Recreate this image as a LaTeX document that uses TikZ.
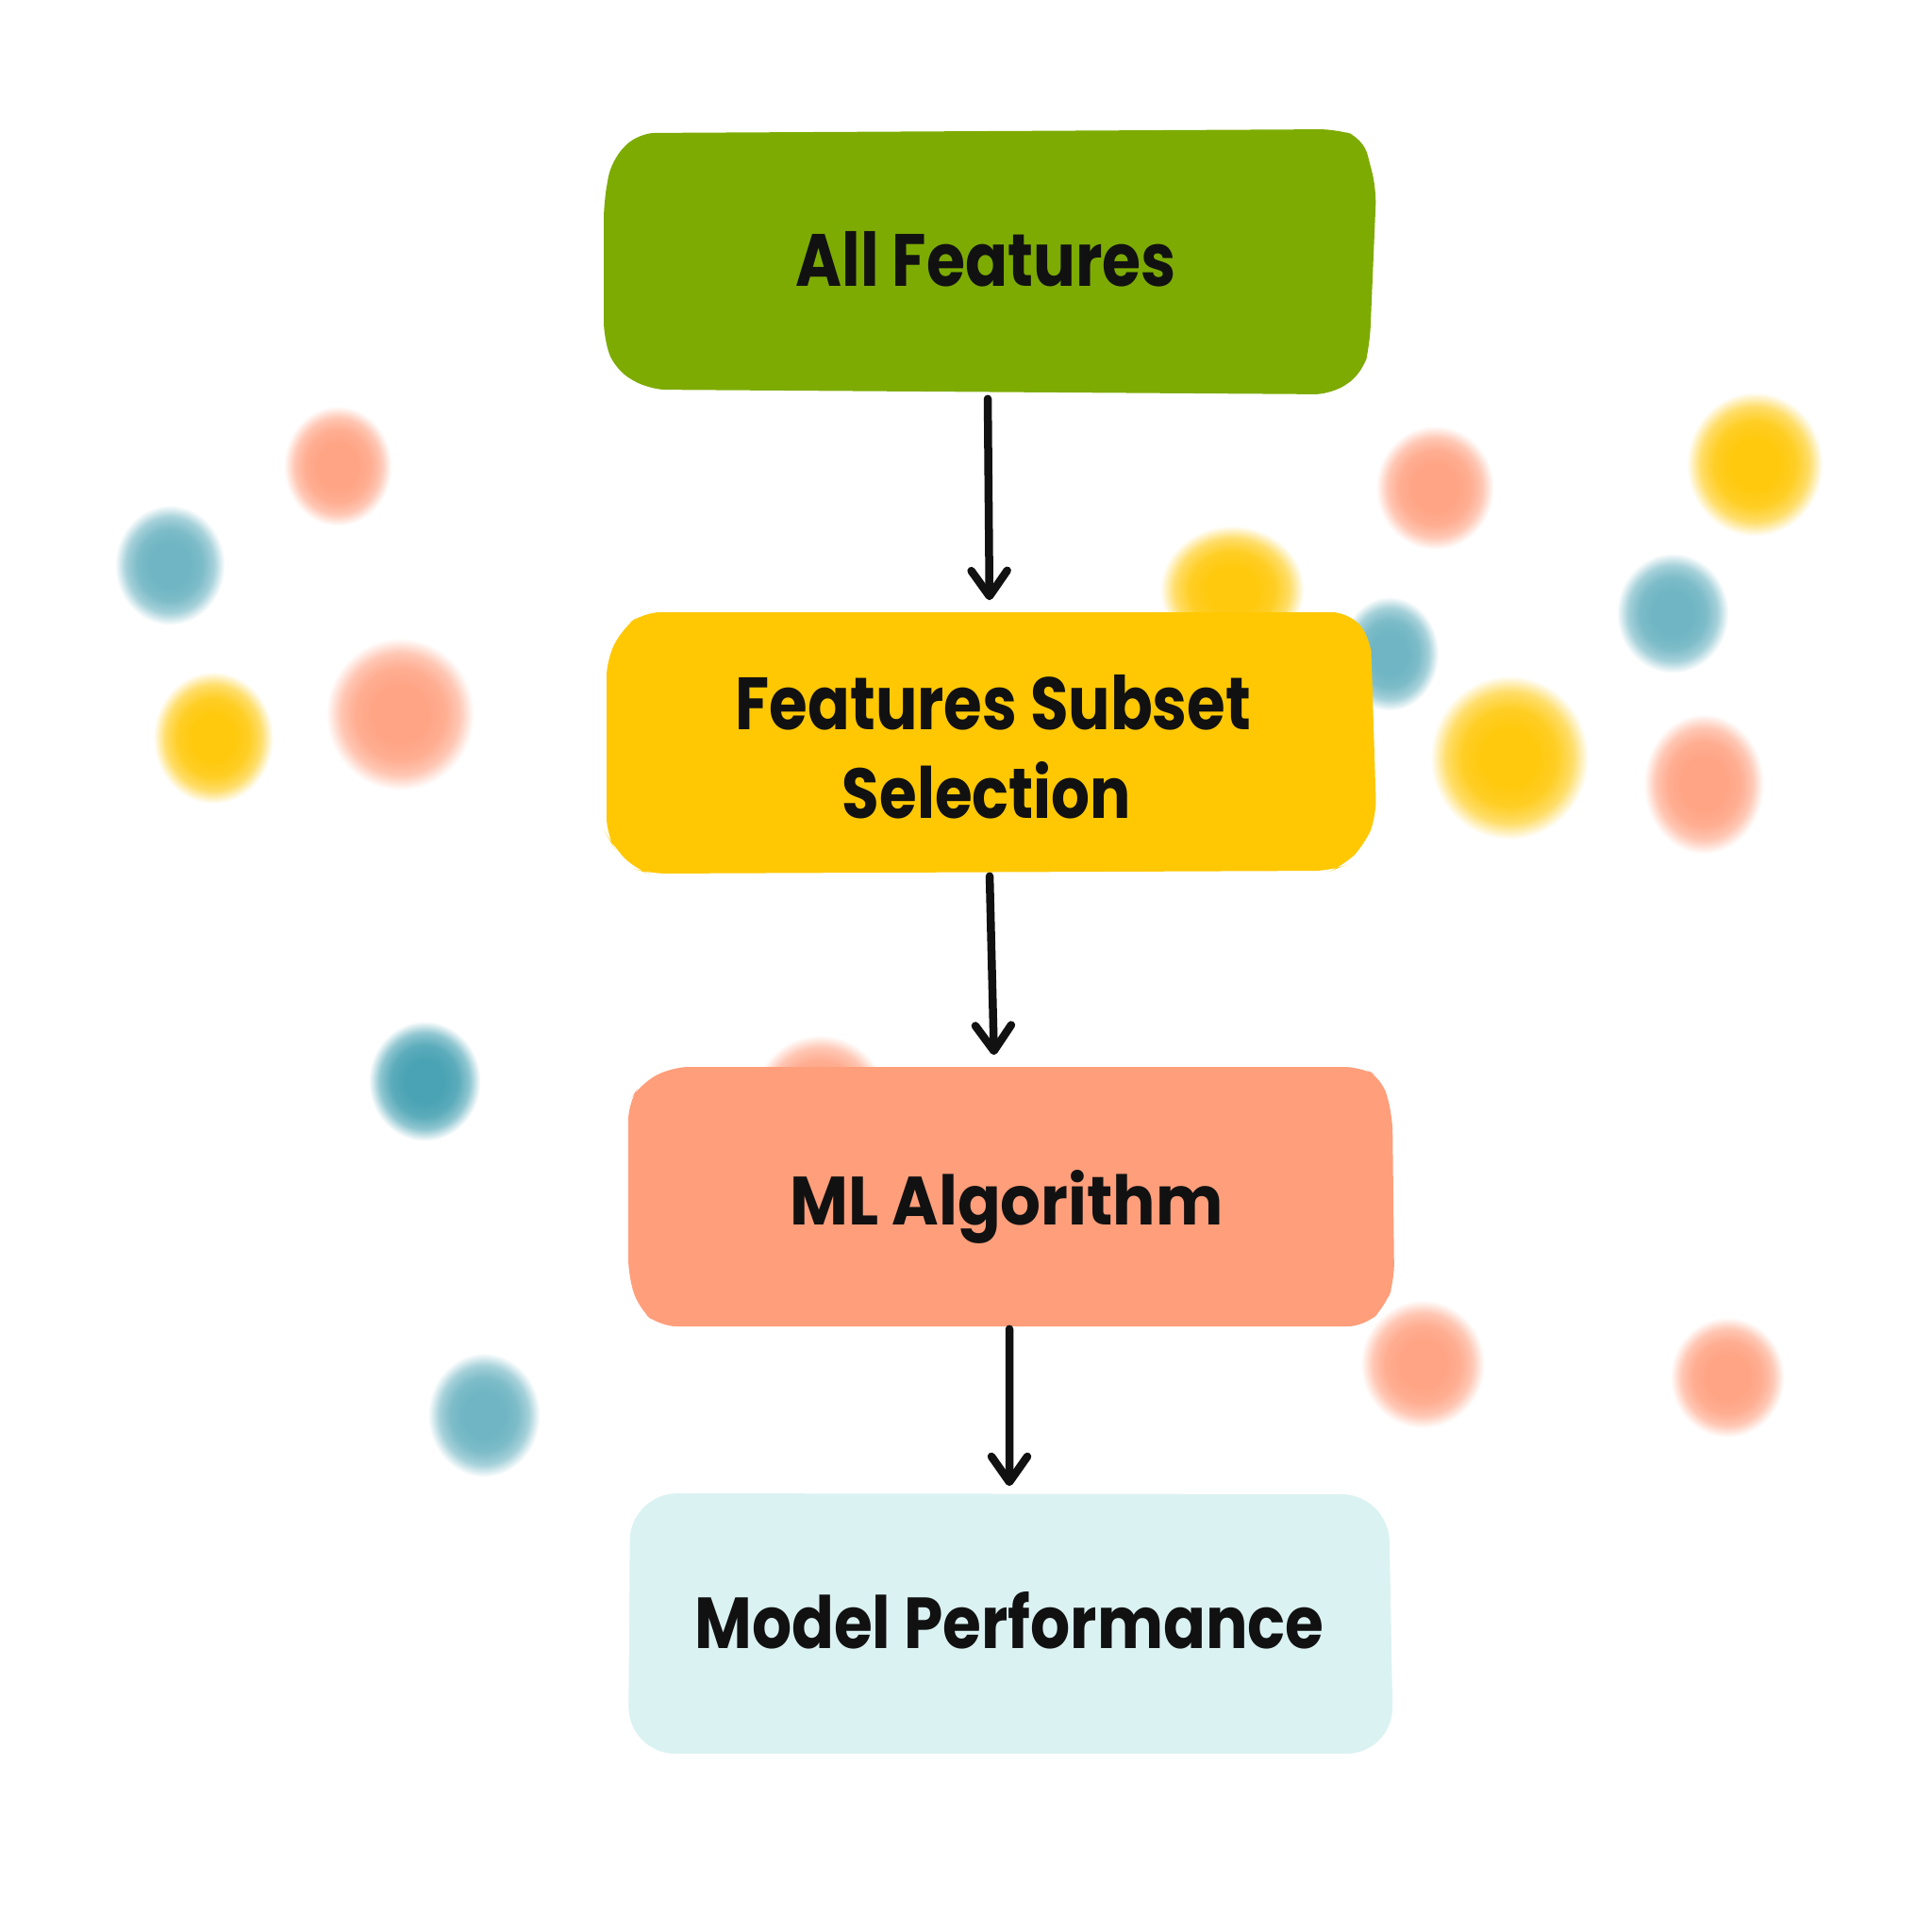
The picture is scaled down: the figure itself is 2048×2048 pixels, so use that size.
\documentclass[tikz,border=0pt]{standalone}
\usepackage{fontspec}
\usepackage{graphicx}
\usetikzlibrary{arrows.meta}
\newfontfamily\hand{Poppins}
\definecolor{gbox}{HTML}{7DAB02}
\definecolor{ybox}{HTML}{FFC802}
\definecolor{sbox}{HTML}{FF9E7B}
\definecolor{cbox}{HTML}{DBF2F2}
\definecolor{ink}{HTML}{111111}
\definecolor{cS}{HTML}{FFA485}
\definecolor{cY}{HTML}{FFC90E}
\definecolor{cT}{HTML}{6FB5C3}
\definecolor{cTd}{HTML}{4AA3B4}
\pgfdeclareradialshading{dotS}{\pgfpoint{0bp}{0bp}}{color(0bp)=(cS); color(9bp)=(cS); color(15bp)=(cS!90!white); color(20bp)=(cS!62!white); color(23bp)=(cS!25!white); color(25bp)=(white); color(50bp)=(white)}
\pgfdeclareradialshading{dotY}{\pgfpoint{0bp}{0bp}}{color(0bp)=(cY); color(9bp)=(cY); color(15bp)=(cY!90!white); color(20bp)=(cY!62!white); color(23bp)=(cY!25!white); color(25bp)=(white); color(50bp)=(white)}
\pgfdeclareradialshading{dotT}{\pgfpoint{0bp}{0bp}}{color(0bp)=(cT); color(9bp)=(cT); color(15bp)=(cT!90!white); color(20bp)=(cT!62!white); color(23bp)=(cT!25!white); color(25bp)=(white); color(50bp)=(white)}
\pgfdeclareradialshading{dotTd}{\pgfpoint{0bp}{0bp}}{color(0bp)=(cTd); color(9bp)=(cTd); color(15bp)=(cTd!90!white); color(20bp)=(cTd!62!white); color(23bp)=(cTd!25!white); color(25bp)=(white); color(50bp)=(white)}
\newcommand{\blob}[5]{\shade[shading=#1] (#2,#3) ellipse [x radius=#4*0.0106cm, y radius=#5*0.0106cm];}
\newcommand{\fitlbl}[3]{\resizebox{#1}{#2}{\hand\bfseries #3}}
\tikzset{
  anchorbox/.style={draw=none, fill=none, inner sep=0pt, rectangle},
  lbl/.style={inner sep=0pt, text=ink, anchor=base},
  arr/.style={draw=ink, line width=0.085cm, line cap=round,
    -{Straight Barb[length=0.27cm, width=0.38cm, line width=0.085cm, round]}},
  handbox/.style={rounded corners=0.18cm}
}
\begin{document}
\begin{tikzpicture}[x=0.01cm, y=-0.01cm]
\useasboundingbox (0,0) rectangle (2048,2048);
\fill[white] (0,0) rectangle (2048,2048);
% blurred dots
\blob{dotS}{358}{494}{54}{60}
\blob{dotT}{180}{599}{55}{60}
\blob{dotY}{226}{782}{60}{66}
\blob{dotS}{424}{757}{74}{76}
\blob{dotS}{1521}{517}{59}{62}
\blob{dotY}{1860}{492}{68}{72}
\blob{dotY}{1306}{625}{72}{64}
\blob{dotT}{1473}{693}{49}{57}
\blob{dotT}{1773}{650}{56}{60}
\blob{dotY}{1600}{803}{79}{82}
\blob{dotS}{1806}{831}{60}{70}
\blob{dotTd}{450}{1146}{56}{60}
\blob{dotS}{869}{1165}{66}{64}
\blob{dotS}{1508}{1446}{62}{64}
\blob{dotS}{1831}{1460}{57}{60}
\blob{dotT}{513}{1500}{56}{62}
% box fills (hand-drawn outlines)
\fill[gbox, handbox] (640,215) -- (648,170) -- (676,141) -- (1417,137) -- (1445,146) -- (1459,200) -- (1452,365) -- (1445,395) -- (1412,418) -- (688,413) -- (652,392) -- (640,359) -- cycle;
\fill[ybox, handbox] (643,699) -- (660,666) -- (682,649) -- (1430,649) -- (1453,676) -- (1454,705) -- (1459,865) -- (1447,895) -- (1424,918) -- (1411,923) -- (688,926) -- (672,921) -- (649,895) -- (643,885) -- cycle;
\fill[sbox, handbox] (666,1169) -- (679,1149) -- (712,1131) -- (1443,1131) -- (1465,1143) -- (1476,1182) -- (1478,1358) -- (1469,1384) -- (1447,1406) -- (699,1406) -- (677,1387) -- (666,1352) -- cycle;
\fill[cbox, rounded corners=0.5cm] (668,1583) -- (1472,1584) -- (1477,1859) -- (666,1859) -- cycle;
% named box nodes
\node[anchorbox, minimum width=8.19cm, minimum height=2.80cm] (b1) at (1050,278) {};
\node[anchorbox, minimum width=8.16cm, minimum height=2.77cm] (b2) at (1051,787.5) {};
\node[anchorbox, minimum width=8.12cm, minimum height=2.75cm] (b3) at (1072,1268.5) {};
\node[anchorbox, minimum width=8.11cm, minimum height=2.76cm] (b4) at (1071,1721) {};
% labels
\node[lbl] (t1) at (1045,303) {\fitlbl{4.03cm}{0.58cm}{All Features}};
\node[lbl] (t2a) at (1053,773) {\fitlbl{5.46cm}{0.58cm}{Features Subset}};
\node[lbl] (t2b) at (1046,867) {\fitlbl{3.06cm}{0.60cm}{Selection}};
\node[lbl] (t3) at (1067,1298) {\fitlbl{4.59cm}{0.58cm}{ML Algorithm}};
\node[lbl] (t4) at (1070,1747) {\fitlbl{6.67cm}{0.60cm}{Model Performance}};
% arrows
\draw[arr, shorten <=0.04cm, shorten >=0.12cm] ([xshift=-0.03cm]b1.south) -- ([xshift=-0.02cm]b2.north);
\draw[arr, shorten <=0.02cm, shorten >=0.12cm] ([xshift=-0.02cm]b2.south) -- ([xshift=-0.18cm]b3.north);
\draw[arr, shorten <=0.02cm, shorten >=0.07cm] ([xshift=-0.02cm]b3.south) -- ([xshift=-0.01cm]b4.north);
\end{tikzpicture}
\end{document}
